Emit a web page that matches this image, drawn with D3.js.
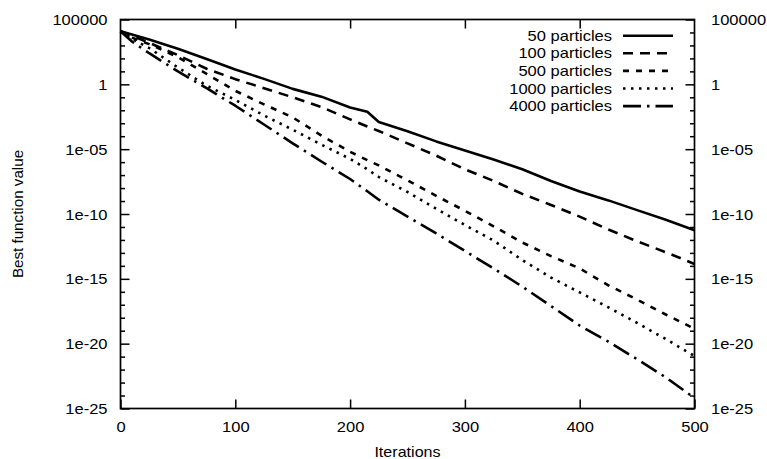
<!DOCTYPE html>
<html>
<head>
<meta charset="utf-8">
<script src="https://cdn.jsdelivr.net/npm/d3@7"></script>
<style>
  html, body { margin: 0; padding: 0; background: #fff; }
  svg { display: block; }
  text { font-family: "Liberation Sans", Arial, Helvetica, sans-serif; fill: #000; }
</style>
</head>
<body>
<svg id="chart" width="767" height="459"></svg>
<script>
// Iterations at which the best function value was sampled
const iterations = [0, 10, 25, 50, 75, 100, 125, 150, 175, 200, 215, 225, 250, 275, 300, 325, 350, 375, 400, 425, 450, 475, 500];

// log10 of the best function value for each swarm size
const log50   = [4.1, 3.85, 3.45, 2.75, 1.95, 1.15, 0.42, -0.35, -0.95, -1.78, -2.11, -2.9, -3.62, -4.4, -5.1, -5.8, -6.55, -7.45, -8.27, -8.95, -9.7, -10.45, -11.25];
const log100  = [4.1, 3.75, 3.2, 2.25, 1.2, 0.4, -0.3, -1.0, -1.75, -2.7, -3.25, -3.6, -4.55, -5.5, -6.55, -7.45, -8.45, -9.3, -10.2, -11.2, -12.1, -12.95, -13.85];
const log500  = [4.1, 3.6, 3.1, 2.1, 0.8, -0.5, -1.55, -2.55, -3.95, -5.2, -5.85, -6.25, -7.4, -8.6, -9.75, -10.95, -12.2, -13.25, -14.2, -15.5, -16.6, -17.75, -18.85];
const log1000 = [4.1, 3.5, 2.8, 1.3, -0.1, -1.2, -2.4, -3.5, -4.65, -5.75, -6.55, -7.15, -8.3, -9.6, -10.85, -12.05, -13.55, -14.9, -16.05, -17.2, -18.4, -19.65, -20.95];
const log4000 = [4.1, 3.3, 2.4, 1.0, -0.3, -1.65, -3.1, -4.55, -5.95, -7.3, -8.25, -8.9, -10.2, -11.5, -12.85, -14.2, -15.6, -17.1, -18.6, -19.85, -21.2, -22.6, -24.2];

const seriesNames = ["50 particles", "100 particles", "500 particles", "1000 particles", "4000 particles"];
const seriesLogs  = [log50, log100, log500, log1000, log4000];
const seriesDash  = ["none", "10,7", "6,7", "2.5,5.5", "18,6,2.5,6"];

// Axis ticks and their labels
const xTicks = [0, 100, 200, 300, 400, 500];
const yTicks = [1e-25, 1e-20, 1e-15, 1e-10, 1e-5, 1, 1e5];
const yTickLabels = ["1e-25", "1e-20", "1e-15", "1e-10", "1e-05", "1", "100000"];
const yMinorTicks = d3.range(-25, 6).filter(e => e % 5 !== 0).map(e => Math.pow(10, e));

const svg = d3.select("#chart");
const plotLeft = 120.5, plotRight = 694.5, plotTop = 19.5, plotBottom = 408.5;

const x = d3.scaleLinear().domain([0, 500]).range([plotLeft, plotRight]);
const y = d3.scaleLog().domain([1e-25, 1e5]).range([plotBottom, plotTop]);

const FONT = 14;
const WIDE = 1.18;   // horizontal stretch of the label face

// Move a text's x/y into a transform so the glyphs can be widened in place
function widen(sel, sx) {
  sel.each(function () {
    const t = d3.select(this);
    const tx = +t.attr("x") || 0, ty = +t.attr("y") || 0;
    t.attr("x", 0).attr("y", 0)
     .attr("transform", `translate(${tx},${ty}) scale(${sx},1)`);
  });
}

function styleAxis(g, withText) {
  g.select(".domain").remove();
  g.selectAll(".tick line").attr("stroke", "#000").attr("stroke-width", 1.5);
  g.attr("font-family", null).attr("font-size", null);
  g.selectAll(".tick text")
    .style("font-size", FONT + "px")
    .attr("fill", "#000");
  if (!withText) g.selectAll(".tick text").remove();
  else widen(g.selectAll(".tick text"), WIDE);
}

// Bottom and top x axes (ticks point into the plot)
svg.append("g")
  .attr("transform", `translate(0,${plotBottom})`)
  .call(d3.axisBottom(x).tickValues(xTicks).tickFormat(d3.format("d")).tickSizeInner(-9).tickSizeOuter(0).tickPadding(14))
  .call(g => styleAxis(g, true));

svg.append("g")
  .attr("transform", `translate(0,${plotTop})`)
  .call(d3.axisTop(x).tickValues(xTicks.slice(1, -1)).tickSizeInner(-9).tickSizeOuter(0))
  .call(g => styleAxis(g, false));

// Left and right log axes, major and minor ticks
const yFmt = d => yTickLabels[yTicks.indexOf(d)];

svg.append("g")
  .attr("transform", `translate(${plotLeft},0)`)
  .call(d3.axisLeft(y).tickValues(yTicks).tickFormat(yFmt).tickSizeInner(-9).tickSizeOuter(0).tickPadding(13))
  .call(g => styleAxis(g, true))
  .call(g => g.selectAll(".tick text").attr("dy", "0.36em"));

svg.append("g")
  .attr("transform", `translate(${plotLeft},0)`)
  .call(d3.axisLeft(y).tickValues(yMinorTicks).tickFormat("").tickSizeInner(-4.5).tickSizeOuter(0))
  .call(g => styleAxis(g, false));

svg.append("g")
  .attr("transform", `translate(${plotRight},0)`)
  .call(d3.axisRight(y).tickValues(yTicks).tickFormat(yFmt).tickSizeInner(-9).tickSizeOuter(0).tickPadding(16.5))
  .call(g => styleAxis(g, true))
  .call(g => g.selectAll(".tick text").attr("dy", "0.36em"));

svg.append("g")
  .attr("transform", `translate(${plotRight},0)`)
  .call(d3.axisRight(y).tickValues(yMinorTicks).tickFormat("").tickSizeInner(-4.5).tickSizeOuter(0))
  .call(g => styleAxis(g, false));

// Plot frame
svg.append("rect")
  .attr("x", plotLeft).attr("y", plotTop)
  .attr("width", plotRight - plotLeft).attr("height", plotBottom - plotTop)
  .attr("fill", "none").attr("stroke", "#000").attr("stroke-width", 1.7);

// Curves
const line = d3.line()
  .x((d, i) => x(iterations[i]))
  .y(d => y(Math.pow(10, d)));

const curves = svg.append("g");
seriesLogs.forEach((vals, k) => {
  curves.append("path")
    .datum(vals)
    .attr("d", line)
    .attr("fill", "none")
    .attr("stroke", "#000")
    .attr("stroke-width", 2.6)
    .attr("stroke-linejoin", "round")
    .attr("stroke-dasharray", seriesDash[k]);
});

// Legend
const legend = svg.append("g");
seriesNames.forEach((name, k) => {
  const cy = 35.7 + k * 17.6;
  legend.append("text")
    .attr("x", 612).attr("y", cy)
    .attr("dy", "0.36em")
    .attr("text-anchor", "end")
    .style("font-size", FONT + "px")
    .text(name)
    .call(t => widen(t, WIDE));
  legend.append("line")
    .attr("x1", 623).attr("x2", 673)
    .attr("y1", cy).attr("y2", cy)
    .attr("stroke", "#000")
    .attr("stroke-width", 2.6)
    .attr("stroke-dasharray", seriesDash[k]);
});

// Axis titles
svg.append("text")
  .attr("x", (plotLeft + plotRight) / 2).attr("y", 457)
  .attr("text-anchor", "middle")
  .style("font-size", FONT + "px")
  .text("Iterations")
  .call(t => widen(t, 1.15));

svg.append("text")
  .attr("transform", `translate(22.7,${(plotTop + plotBottom) / 2}) rotate(-90) scale(1.085,1)`)
  .attr("text-anchor", "middle")
  .style("font-size", FONT + "px")
  .text("Best function value");
</script>
</body>
</html>
